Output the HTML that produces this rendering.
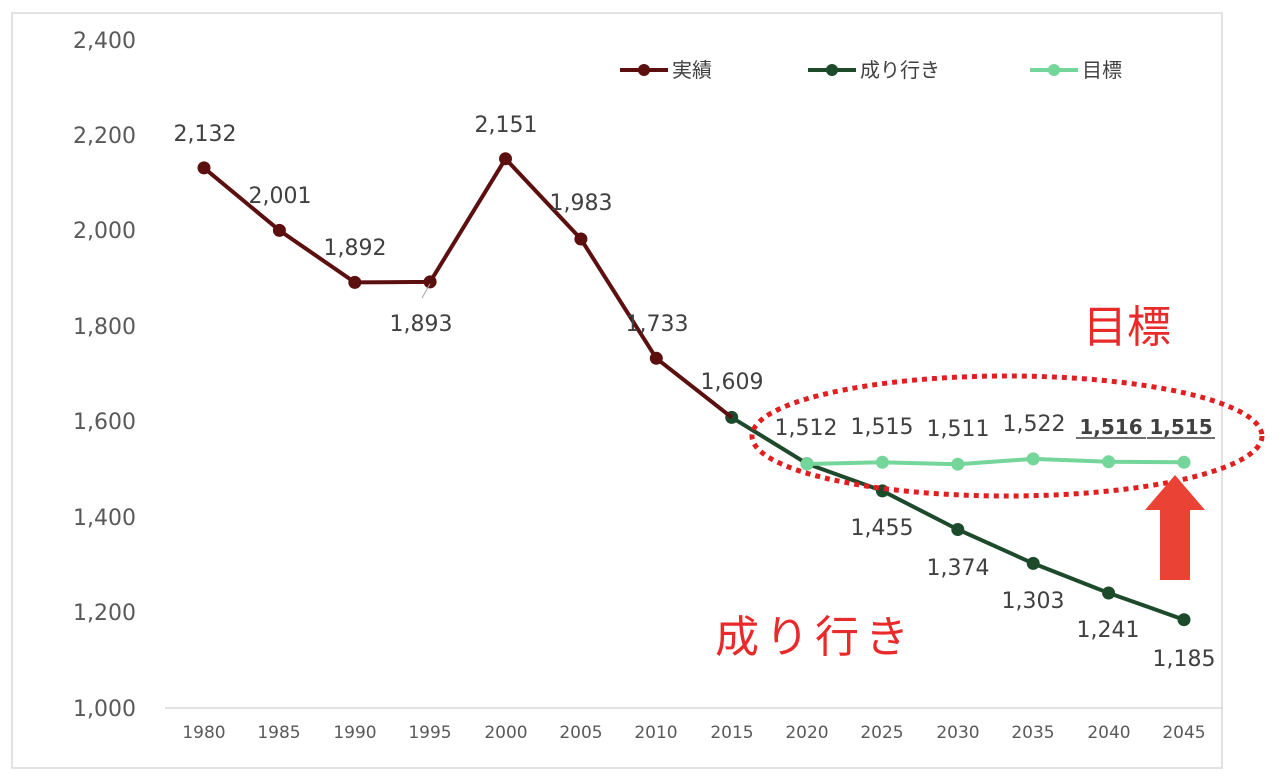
<!DOCTYPE html>
<html><head><meta charset="utf-8"><style>body{margin:0;background:#fff}svg{display:block}text{font-family:"DejaVu Sans","Noto Sans CJK JP",sans-serif}</style></head><body>
<svg width="1280" height="779" viewBox="0 0 1280 779">
<rect x="12" y="13" width="1210" height="755" fill="#fff" stroke="#d9d9d9" stroke-width="1.5"/>
<line x1="165" y1="708" x2="1222" y2="708" stroke="#d9d9d9" stroke-width="1.5"/>
<g font-size="22" fill="#595959" text-anchor="end">
<text x="136" y="48">2,400</text><text x="136" y="143">2,200</text><text x="136" y="238">2,000</text><text x="136" y="334">1,800</text><text x="136" y="429">1,600</text><text x="136" y="525">1,400</text><text x="136" y="620">1,200</text><text x="136" y="716">1,000</text>
</g>
<g font-size="17" fill="#595959" text-anchor="middle">
<text x="204" y="738">1980</text><text x="279" y="738">1985</text><text x="355" y="738">1990</text><text x="430" y="738">1995</text><text x="506" y="738">2000</text><text x="581" y="738">2005</text><text x="656" y="738">2010</text><text x="732" y="738">2015</text><text x="807" y="738">2020</text><text x="882" y="738">2025</text><text x="958" y="738">2030</text><text x="1033" y="738">2035</text><text x="1109" y="738">2040</text><text x="1184" y="738">2045</text>
</g>
<polyline fill="none" stroke="#1e4a2c" stroke-width="4" points="731.7,417.4 807,463.7 882.4,490.9 957.8,529.5 1033.2,563.4 1108.6,593 1184,619.7"/>
<g fill="#1e4a2c"><circle cx="731.7" cy="417.4" r="6.5"/><circle cx="807" cy="463.7" r="6.5"/><circle cx="882.4" cy="490.9" r="6.5"/><circle cx="957.8" cy="529.5" r="6.5"/><circle cx="1033.2" cy="563.4" r="6.5"/><circle cx="1108.6" cy="593" r="6.5"/><circle cx="1184" cy="619.7" r="6.5"/></g>
<polyline fill="none" stroke="#5c0f0f" stroke-width="4" points="204,167.9 279.4,230.4 354.8,282.4 430.1,281.9 505.5,158.8 580.9,239 656.3,358.3 731.7,417.4"/>
<g fill="#5c0f0f"><circle cx="204" cy="167.9" r="6.5"/><circle cx="279.4" cy="230.4" r="6.5"/><circle cx="354.8" cy="282.4" r="6.5"/><circle cx="430.1" cy="281.9" r="6.5"/><circle cx="505.5" cy="158.8" r="6.5"/><circle cx="580.9" cy="239" r="6.5"/><circle cx="656.3" cy="358.3" r="6.5"/></g>
<line x1="430" y1="284" x2="422" y2="298" stroke="#a6a6a6" stroke-width="1"/>
<polyline fill="none" stroke="#74d69a" stroke-width="4" points="807,464 882.4,462.3 957.8,464.2 1033.2,458.9 1108.6,461.8 1184,462.3"/>
<g fill="#74d69a"><circle cx="807" cy="464" r="6.5"/><circle cx="882.4" cy="462.3" r="6.5"/><circle cx="957.8" cy="464.2" r="6.5"/><circle cx="1033.2" cy="458.9" r="6.5"/><circle cx="1108.6" cy="461.8" r="6.5"/><circle cx="1184" cy="462.3" r="6.5"/></g>
<g font-size="22" fill="#404040" text-anchor="middle">
<text x="205" y="141">2,132</text><text x="280" y="203">2,001</text><text x="355" y="255">1,892</text><text x="421" y="331">1,893</text><text x="506" y="132">2,151</text><text x="581" y="210">1,983</text><text x="657" y="331">1,733</text><text x="732" y="389">1,609</text>
<text x="806" y="435">1,512</text><text x="882" y="434">1,515</text><text x="958" y="436">1,511</text><text x="1034" y="431">1,522</text>
<text x="882" y="535">1,455</text><text x="958" y="575">1,374</text><text x="1033" y="608">1,303</text><text x="1108" y="637">1,241</text><text x="1184" y="666">1,185</text>
</g>
<g font-size="20" fill="#404040" font-weight="bold" text-anchor="middle">
<text x="1111" y="434">1,516</text><text x="1181" y="434">1,515</text>
</g>
<line x1="1076" y1="438" x2="1146" y2="438" stroke="#404040" stroke-width="1.5"/><line x1="1147" y1="438" x2="1215" y2="438" stroke="#404040" stroke-width="1.5"/>
<ellipse cx="1007" cy="436" rx="255" ry="60" fill="none" stroke="#e02020" stroke-width="5" stroke-dasharray="5,5"/>
<polygon points="1175,475 1205,510 1190,510 1190,580 1160,580 1160,510 1145,510" fill="#ea4335"/>
<text x="1083" y="342" font-size="44" fill="#e82a2a">目標</text>
<text x="715" y="652" font-size="44" fill="#e82a2a" letter-spacing="6">成り行き</text>
<g font-size="20" fill="#404040">
<line x1="620" y1="70" x2="668" y2="70" stroke="#5c0f0f" stroke-width="4"/><circle cx="644" cy="70" r="6" fill="#5c0f0f"/><text x="672" y="77">実績</text>
<line x1="808" y1="70" x2="856" y2="70" stroke="#1e4a2c" stroke-width="4"/><circle cx="832" cy="70" r="6" fill="#1e4a2c"/><text x="860" y="77">成り行き</text>
<line x1="1030" y1="70" x2="1078" y2="70" stroke="#74d69a" stroke-width="4"/><circle cx="1054" cy="70" r="6" fill="#74d69a"/><text x="1082" y="77">目標</text>
</g>
</svg>
</body></html>
